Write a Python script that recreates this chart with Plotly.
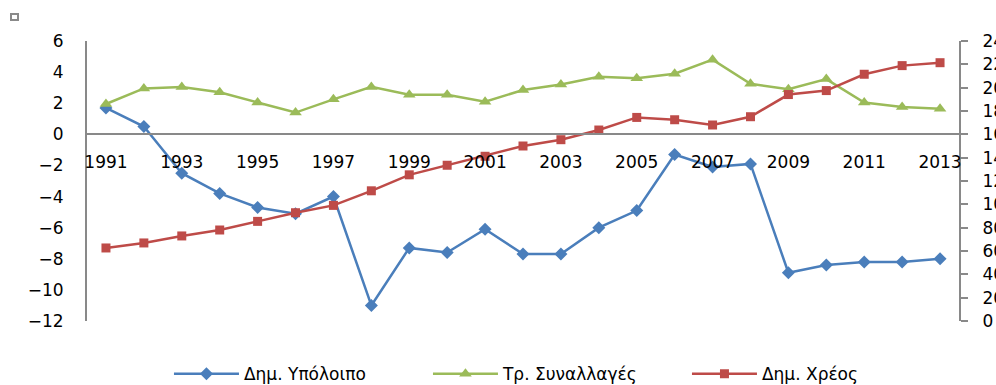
import plotly.graph_objects as go

# Years on the category axis
years = list(range(1991, 2014))
tick_years = list(range(1991, 2014, 2))

# Δημ. Υπόλοιπο (left axis)
balance = [1.7, 0.5, -2.5, -3.8, -4.7, -5.1, -4.0, -11.0, -7.3, -7.6, -6.1, -7.7,
           -7.7, -6.0, -4.9, -1.3, -2.1, -1.9, -8.9, -8.4, -8.2, -8.2, -8.0]

# Τρ. Συναλλαγές (left axis)
current = [1.95, 2.95, 3.05, 2.7, 2.05, 1.4, 2.25, 3.05, 2.55, 2.55, 2.1, 2.85,
           3.2, 3.7, 3.6, 3.9, 4.8, 3.25, 2.9, 3.55, 2.05, 1.75, 1.65]

# Δημ. Χρέος (right axis)
debt = [62.6, 66.9, 72.9, 78.0, 85.4, 92.8, 99.1, 111.6, 125.3, 133.5, 141.2, 150.0,
        155.4, 163.7, 174.5, 172.5, 168.0, 175.1, 194.1, 197.5, 211.5, 218.9, 221.4]

left_ticks = list(range(-12, 7, 2))
right_ticks = list(range(0, 241, 20))

BLUE = "#4A7EBB"
GREEN = "#9BBB59"
RED = "#BE4B48"
AXIS = "#898989"
FONT = "DejaVu Sans"

fig = go.Figure()
fig.add_trace(go.Scatter(
    x=years, y=balance, name="Δημ. Υπόλοιπο", mode="lines+markers",
    line=dict(color=BLUE, width=2.5),
    marker=dict(symbol="diamond", size=10, color=BLUE)))
fig.add_trace(go.Scatter(
    x=years, y=current, name="Τρ. Συναλλαγές", mode="lines+markers",
    line=dict(color=GREEN, width=2.5),
    marker=dict(symbol="triangle-up", size=11, color=GREEN)))
fig.add_trace(go.Scatter(
    x=years, y=debt, name="Δημ. Χρέος", mode="lines+markers", yaxis="y2",
    line=dict(color=RED, width=2.5),
    marker=dict(symbol="square", size=9, color=RED)))

zero_pos = (0 - left_ticks[0]) / (left_ticks[-1] - left_ticks[0])

fig.update_layout(
    width=996, height=385,
    margin=dict(l=87, r=37, t=41, b=64, autoexpand=False),
    paper_bgcolor="white", plot_bgcolor="white",
    font=dict(family=FONT, size=17, color="#000000"),
    showlegend=True,
    legend=dict(orientation="h", x=0.094, y=-0.19, xanchor="left", yanchor="middle",
                font=dict(family=FONT, size=17, color="#000000"),
                entrywidth=179, entrywidthmode="pixels", itemwidth=65,
                bgcolor="rgba(0,0,0,0)"),
    xaxis=dict(range=[1990.5, 2013.5], tickvals=tick_years,
               ticktext=[str(y) for y in tick_years],
               anchor="free", position=zero_pos,
               showline=True, linecolor=AXIS, linewidth=2,
               ticks="", ticklabelstandoff=12, showgrid=False, zeroline=False,
               tickfont=dict(family=FONT, size=17)),
    yaxis=dict(range=[left_ticks[0], left_ticks[-1]], tickvals=left_ticks,
               showline=True, linecolor=AXIS, linewidth=2,
               ticks="", ticklabelstandoff=18, showgrid=False, zeroline=False,
               tickfont=dict(family=FONT, size=17)),
    yaxis2=dict(range=[right_ticks[0], right_ticks[-1]], tickvals=right_ticks,
                overlaying="y", side="right", anchor="x",
                showline=True, linecolor=AXIS, linewidth=2,
                ticks="outside", ticklen=7, tickcolor=AXIS, tickwidth=2,
                ticklabelstandoff=11, showgrid=False, zeroline=False,
                tickfont=dict(family=FONT, size=17)),
)

# small square mark in the top-left corner
fig.add_shape(type="rect", xref="paper", yref="paper",
              x0=(11 - 87) / 872, x1=(18 - 87) / 872,
              y0=(321 - 20) / 280, y1=(321 - 14) / 280,
              line=dict(color="#8a8a8a", width=2), fillcolor="white")

fig.write_html("out.html")
